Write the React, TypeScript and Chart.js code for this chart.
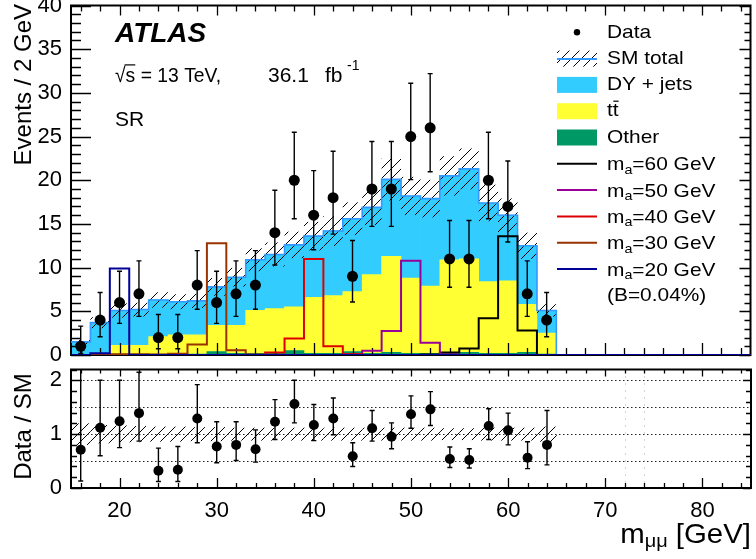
import React, { useEffect, useRef } from 'react';
import { Chart, registerables } from 'chart.js';

Chart.register(...registerables);

const FONT = "'Liberation Sans', Arial, Helvetica, sans-serif";

// ---------- data ----------
const binCenters = [16, 18, 20, 22, 24, 26, 28, 30, 32, 34, 36, 38, 40, 42, 44, 46, 48, 50, 52, 54, 56, 58, 60, 62, 64];
const binHalfWidth = 1;
const histUpperEdge = 65;
const xMin = 15;
const xMax = 85;

const dataCounts = [1, 4, 6, 7, 2, 2, 8, 6, 7, 8, 14, 20, 16, 18, 9, 19, 19, 25, 26, 11, 11, 20, 17, 7, 4];
const dataErrUp = [2.3, 3.16, 3.58, 3.77, 2.64, 2.64, 3.95, 3.58, 3.77, 3.95, 4.85, 5.5, 5.1, 5.32, 4.11, 5.43, 5.43, 6.1, 6.2, 4.4, 4.4, 5.5, 5.21, 3.77, 3.16];
const dataErrDown = [0.83, 1.91, 2.38, 2.58, 1.29, 1.29, 2.77, 2.38, 2.58, 2.77, 3.7, 4.4, 3.95, 4.17, 2.94, 4.28, 4.28, 4.93, 5.03, 3.25, 3.25, 4.4, 4.06, 2.58, 1.91];

const otherBkg = [0.05, 0.05, 0.1, 0.1, 0.1, 0.1, 0.1, 0.4, 0.2, 0.2, 0.2, 0.5, 0.2, 0.2, 0.4, 0.2, 0.3, 0.2, 0.2, 0.2, 0.3, 0.2, 0.2, 0.3, 0.1];
const ttbarBkg = [0, 0.05, 1.0, 1.0, 2.0, 2.2, 2.2, 3.0, 3.2, 4.9, 5.1, 5.0, 6.4, 6.6, 6.85, 9.0, 11.0, 8.6, 7.7, 10.7, 10.7, 8.2, 8.3, 5.5, 2.4];
const dyBkg = [1.45, 3.6, 4.0, 4.1, 4.2, 3.8, 3.9, 4.4, 5.5, 5.8, 6.2, 7.1, 7.0, 7.4, 8.35, 7.7, 8.8, 9.4, 10.0, 9.6, 10.3, 9.0, 7.5, 6.7, 2.6];
const smRelUnc = [0.2, 0.17, 0.16, 0.15, 0.14, 0.14, 0.13, 0.13, 0.12, 0.12, 0.12, 0.12, 0.12, 0.12, 0.12, 0.12, 0.12, 0.12, 0.12, 0.11, 0.11, 0.12, 0.12, 0.12, 0.14];

const sigMa20 = [0, 0.2, 9.9, 0, 0, 0, 0, 0, 0, 0, 0, 0, 0, 0, 0, 0, 0, 0, 0, 0, 0, 0, 0, 0, 0];
const sigMa30 = [0, 0.1, 0.1, 0.1, 0.05, 0.15, 1.2, 12.8, 0.55, 0.05, 0, 0, 0, 0, 0, 0, 0, 0, 0, 0, 0, 0, 0, 0, 0];
const sigMa40 = [0, 0, 0, 0, 0, 0, 0, 0, 0, 0, 0.3, 1.9, 11.0, 1.0, 0.1, 0, 0, 0, 0, 0, 0, 0, 0, 0, 0];
const sigMa50 = [0, 0, 0, 0, 0, 0, 0, 0, 0, 0, 0, 0, 0, 0, 0.1, 0.5, 2.75, 10.8, 1.4, 0.05, 0, 0, 0, 0, 0];
const sigMa60 = [0, 0, 0, 0, 0, 0, 0, 0, 0, 0, 0, 0, 0, 0, 0, 0, 0, 0, 0.05, 0.3, 0.75, 4.2, 13.6, 2.8, 0];

const ratioValues = [0.71, 1.12, 1.24, 1.39, 0.32, 0.34, 1.29, 0.77, 0.8, 0.72, 1.23, 1.56, 1.17, 1.29, 0.59, 1.11, 0.95, 1.37, 1.46, 0.54, 0.52, 1.15, 1.07, 0.56, 0.8];
const ratioLow = [0.13, 0.6, 0.75, 0.87, 0.12, 0.12, 0.84, 0.47, 0.51, 0.48, 0.9, 1.21, 0.88, 0.99, 0.4, 0.87, 0.73, 1.11, 1.16, 0.38, 0.37, 0.9, 0.8, 0.36, 0.43];
const ratioHigh = [2.4, 2.0, 2.0, 2.15, 0.74, 0.77, 1.92, 1.23, 1.23, 1.08, 1.64, 2.0, 1.55, 1.67, 0.84, 1.44, 1.21, 1.71, 1.79, 0.76, 0.73, 1.47, 1.39, 0.86, 1.44];

const xTickLabels = [20, 30, 40, 50, 60, 70, 80];
const upperYTickLabels = [0, 5, 10, 15, 20, 25, 30, 35, 40];
const lowerYTickLabels = [0, 1, 2];
const ratioRefLines = [0.5, 1, 1.5, 2];
const ratioFaintLines = [72, 74];

const signalDefs = [
  { label: 'm_a=60 GeV', mass: '60', values: sigMa60, color: '#000000' },
  { label: 'm_a=50 GeV', mass: '50', values: sigMa50, color: '#990099' },
  { label: 'm_a=40 GeV', mass: '40', values: sigMa40, color: '#dd0000' },
  { label: 'm_a=30 GeV', mass: '30', values: sigMa30, color: '#993300' },
  { label: 'm_a=20 GeV', mass: '20', values: sigMa20, color: '#000099' },
];

const COL_DY = '#33ccff';
const COL_TT = '#ffff33';
const COL_OTHER = '#009966';
const COL_SMLINE = '#3399ff';

// ---------- helpers ----------
const total = binCenters.map((_, i) => otherBkg[i] + ttbarBkg[i] + dyBkg[i]);

function stepPoints(values: number[], closeTo: number | null) {
  const pts = binCenters.map((c, i) => ({ x: c - binHalfWidth, y: values[i] }));
  pts.push({ x: histUpperEdge, y: values[values.length - 1] });
  if (closeTo !== null) pts.push({ x: closeTo, y: 0 });
  return pts;
}

function range(a: number, b: number, s: number) {
  const out: number[] = [];
  for (let v = a; v <= b + 1e-9; v += s) out.push(Math.round(v * 1000) / 1000);
  return out;
}

function makeHatch(ctx: CanvasRenderingContext2D) {
  const c = document.createElement('canvas');
  c.width = 10;
  c.height = 10;
  const g = c.getContext('2d')!;
  g.strokeStyle = '#000';
  g.lineWidth = 1;
  g.beginPath();
  g.moveTo(0, 10);
  g.lineTo(10, 0);
  g.moveTo(-5, 5);
  g.lineTo(5, -5);
  g.moveTo(5, 15);
  g.lineTo(15, 5);
  g.stroke();
  return ctx.createPattern(c, 'repeat')!;
}

function text(ctx: CanvasRenderingContext2D, s: string, x: number, y: number, size: number, o: any = {}) {
  ctx.save();
  ctx.font = `${o.style || 'normal'} ${o.weight || 'normal'} ${size}px ${FONT}`;
  ctx.fillStyle = '#000';
  ctx.textAlign = 'left';
  ctx.textBaseline = o.baseline || 'alphabetic';
  const sx = o.sx || 1;
  const w = ctx.measureText(s).width * sx;
  let x0 = x;
  if (o.align === 'right') x0 = x - w;
  if (o.align === 'center') x0 = x - w / 2;
  ctx.translate(x0, y);
  ctx.scale(sx, 1);
  ctx.fillText(s, 0, 0);
  ctx.restore();
  return w;
}

function measure(ctx: CanvasRenderingContext2D, s: string, size: number, sx = 1, weight = 'normal') {
  ctx.save();
  ctx.font = `normal ${weight} ${size}px ${FONT}`;
  const w = ctx.measureText(s).width * sx;
  ctx.restore();
  return w;
}

type TickCfg = {
  xMinor: number[]; xMajor: number[]; xBot: [number, number]; xTop: [number, number];
  yMinor: number[]; yMajor: number[]; yLeft: [number, number]; yRight: [number, number];
};

function drawFrame(chart: any, cfg: TickCfg) {
  const { ctx, chartArea: a } = chart;
  const xs = chart.scales.x;
  const ys = chart.scales.y;
  ctx.save();
  ctx.strokeStyle = '#000';
  ctx.lineWidth = 1.3;
  ctx.beginPath();
  for (const v of cfg.xMinor) {
    const px = Math.round(xs.getPixelForValue(v)) + 0.5;
    const maj = cfg.xMajor.includes(v);
    const lb = maj ? cfg.xBot[0] : cfg.xBot[1];
    const lt = maj ? cfg.xTop[0] : cfg.xTop[1];
    ctx.moveTo(px, a.bottom);
    ctx.lineTo(px, a.bottom - lb);
    ctx.moveTo(px, a.top);
    ctx.lineTo(px, a.top + lt);
  }
  for (const v of cfg.yMinor) {
    const py = Math.round(ys.getPixelForValue(v)) + 0.5;
    const maj = cfg.yMajor.some((m) => Math.abs(m - v) < 1e-6);
    const ll = maj ? cfg.yLeft[0] : cfg.yLeft[1];
    const lr = maj ? cfg.yRight[0] : cfg.yRight[1];
    ctx.moveTo(a.left, py);
    ctx.lineTo(a.left + ll, py);
    ctx.moveTo(a.right, py);
    ctx.lineTo(a.right - lr, py);
  }
  ctx.stroke();
  ctx.lineWidth = 2;
  ctx.strokeRect(a.left, a.top, a.right - a.left, a.bottom - a.top);
  ctx.restore();
}

function drawHatchBand(chart: any, lo: number[], hi: number[], pattern: CanvasPattern) {
  const { ctx, chartArea: a } = chart;
  const xs = chart.scales.x;
  const ys = chart.scales.y;
  ctx.save();
  ctx.beginPath();
  ctx.rect(a.left, a.top, a.right - a.left, a.bottom - a.top);
  ctx.clip();
  ctx.fillStyle = pattern;
  binCenters.forEach((c, i) => {
    const x1 = xs.getPixelForValue(c - binHalfWidth);
    const x2 = xs.getPixelForValue(c + binHalfWidth);
    const y1 = ys.getPixelForValue(hi[i]);
    const y2 = ys.getPixelForValue(lo[i]);
    ctx.fillRect(x1, y1, x2 - x1, y2 - y1);
  });
  ctx.restore();
}

const errorBarPlugin = {
  id: 'errbars',
  beforeDatasetDraw(chart: any, args: any) {
    const ds: any = chart.data.datasets[args.index];
    if (!ds.errLo) return;
    const { ctx, chartArea: a } = chart;
    const xs = chart.scales.x;
    const ys = chart.scales.y;
    ctx.save();
    ctx.beginPath();
    ctx.rect(a.left, a.top, a.right - a.left, a.bottom - a.top);
    ctx.clip();
    ctx.strokeStyle = '#000';
    ctx.lineWidth = 1.4;
    ctx.beginPath();
    ds.data.forEach((p: any, i: number) => {
      const x = xs.getPixelForValue(p.x);
      const y1 = ys.getPixelForValue(ds.errLo[i]);
      const y2 = ys.getPixelForValue(ds.errHi[i]);
      ctx.moveTo(x, y1);
      ctx.lineTo(x, y2);
      ctx.moveTo(x - 2.5, y1);
      ctx.lineTo(x + 2.5, y1);
      ctx.moveTo(x - 2.5, y2);
      ctx.lineTo(x + 2.5, y2);
    });
    ctx.stroke();
    ctx.restore();
  },
};

const xMinorTicks = range(16, 84, 2);
const xMajorTicks = xTickLabels;

const noPad = (s: any) => {
  s.paddingTop = 0;
  s.paddingBottom = 0;
  s.paddingLeft = 0;
  s.paddingRight = 0;
};

// ---------- component ----------
export default function App() {
  const topRef = useRef<HTMLCanvasElement>(null);
  const botRef = useRef<HTMLCanvasElement>(null);

  useEffect(() => {
    Chart.defaults.color = '#000';
    Chart.defaults.font.family = FONT;

    const topCtx = topRef.current!.getContext('2d')!;
    const hatchTop = makeHatch(topCtx);
    const smIndex = 3;

    const upperPlugin = {
      id: 'upperDeco',
      beforeDatasetDraw(chart: any, args: any) {
        if (args.index !== smIndex) return;
        drawHatchBand(
          chart,
          total.map((t, i) => t * (1 - smRelUnc[i])),
          total.map((t, i) => t * (1 + smRelUnc[i])),
          hatchTop
        );
        drawFrame(chart, {
          xMinor: xMinorTicks, xMajor: xMajorTicks, xBot: [12, 7], xTop: [10, 6],
          yMinor: range(0, 40, 1), yMajor: upperYTickLabels, yLeft: [20, 10], yRight: [11, 6],
        });
      },
      afterDraw(chart: any) {
        const ctx: CanvasRenderingContext2D = chart.ctx;
        // ATLAS label
        text(ctx, 'ATLAS', 115, 41.7, 28, { weight: 'bold', style: 'italic' });
        // sqrt(s) line
        const fs = 21;
        const rsx = 0.92;
        const wRoot = measure(ctx, '\u221A', fs, rsx);
        const wS = measure(ctx, 's', fs, rsx);
        text(ctx, '\u221As = 13 TeV,', 115, 81.7, fs, { sx: rsx });
        ctx.save();
        ctx.strokeStyle = '#000';
        ctx.lineWidth = 1.2;
        ctx.beginPath();
        ctx.moveTo(115 + wRoot - 1, 81.7 - fs * 0.8);
        ctx.lineTo(115 + wRoot + wS, 81.7 - fs * 0.8);
        ctx.stroke();
        ctx.restore();
        text(ctx, '36.1', 268, 81.7, fs);
        text(ctx, 'fb', 325, 81.7, fs);
        text(ctx, '-1', 347, 70, 14);
        text(ctx, 'SR', 115, 126, fs);

        // axis title
        ctx.save();
        ctx.translate(31, 4);
        ctx.rotate(-Math.PI / 2);
        text(ctx, 'Events / 2 GeV', 0, 0, 24, { align: 'right' });
        ctx.restore();

        // legend
        const lx0 = 557;
        const lx1 = 597;
        const tx = 607;
        const rowY = (i: number) => 32.3 + 26.3 * i;
        const lf = 19;
        const lsx = 1.1;
        // Data
        ctx.save();
        ctx.fillStyle = '#000';
        ctx.beginPath();
        ctx.arc((lx0 + lx1) / 2, rowY(0), 3.2, 0, Math.PI * 2);
        ctx.fill();
        ctx.restore();
        text(ctx, 'Data', tx, rowY(0), lf, { baseline: 'middle', sx: lsx });
        // SM total
        ctx.save();
        ctx.fillStyle = hatchTop;
        ctx.fillRect(lx0, rowY(1) - 8, lx1 - lx0, 16);
        ctx.strokeStyle = COL_SMLINE;
        ctx.lineWidth = 2;
        ctx.beginPath();
        ctx.moveTo(lx0, rowY(1) + 0.5);
        ctx.lineTo(lx1, rowY(1) + 0.5);
        ctx.stroke();
        ctx.restore();
        text(ctx, 'SM total', tx, rowY(1), lf, { baseline: 'middle', sx: lsx });
        // fills
        const boxes: [string, string][] = [[COL_DY, 'DY + jets'], [COL_TT, 'tt'], [COL_OTHER, 'Other']];
        boxes.forEach(([col, lab], k) => {
          const y = rowY(2 + k);
          ctx.save();
          ctx.fillStyle = col;
          ctx.fillRect(lx0, y - 8, lx1 - lx0, 16);
          ctx.restore();
          text(ctx, lab, tx, y, lf, { baseline: 'middle', sx: lsx });
          if (lab === 'tt') {
            const wt = measure(ctx, 't', lf, lsx);
            ctx.save();
            ctx.strokeStyle = '#000';
            ctx.lineWidth = 1.2;
            ctx.beginPath();
            ctx.moveTo(tx + wt + 0.5, y - 10);
            ctx.lineTo(tx + 2 * wt, y - 10);
            ctx.stroke();
            ctx.restore();
          }
        });
        // signals
        signalDefs.forEach((s, k) => {
          const y = rowY(5 + k);
          ctx.save();
          ctx.strokeStyle = s.color;
          ctx.lineWidth = 2;
          ctx.beginPath();
          ctx.moveTo(lx0, y);
          ctx.lineTo(lx1, y);
          ctx.stroke();
          ctx.restore();
          let x = tx;
          x += text(ctx, 'm', x, y + 6.5, lf, { sx: lsx });
          x += text(ctx, 'a', x, y + 10, 13, { sx: lsx });
          text(ctx, '=' + s.mass + ' GeV', x, y + 6.5, lf, { sx: lsx });
        });
        text(ctx, '(B=0.04%)', tx, rowY(10), lf, { baseline: 'middle', sx: lsx });
      },
    };

    const barCommon = {
      type: 'bar' as const,
      grouped: false,
      barPercentage: 1,
      categoryPercentage: 1,
      borderWidth: 0,
      order: 10,
    };

    const upper = new Chart(topRef.current!, {
      type: 'bar',
      data: {
        datasets: [
          { ...barCommon, label: 'Other', backgroundColor: COL_OTHER, data: binCenters.map((x, i) => ({ x, y: [0, otherBkg[i]] })) } as any,
          { ...barCommon, label: 'ttbar', backgroundColor: COL_TT, data: binCenters.map((x, i) => ({ x, y: [otherBkg[i], otherBkg[i] + ttbarBkg[i]] })) } as any,
          { ...barCommon, label: 'DY + jets', backgroundColor: COL_DY, data: binCenters.map((x, i) => ({ x, y: [otherBkg[i] + ttbarBkg[i], total[i]] })) } as any,
          {
            type: 'line', label: 'SM total', data: stepPoints(total, histUpperEdge), borderColor: COL_SMLINE,
            borderWidth: 1.6, stepped: 'before', pointRadius: 0, fill: false, order: 6,
          } as any,
          ...signalDefs.map((s, k) => ({
            type: 'line', label: s.label, data: stepPoints(s.values, xMax), borderColor: s.color,
            borderWidth: 2, stepped: 'before', pointRadius: 0, fill: false, order: 5 - k,
          } as any)),
          {
            type: 'line', label: 'Data', data: binCenters.map((x, i) => ({ x, y: dataCounts[i] })), showLine: false,
            pointRadius: 5.5, pointHoverRadius: 5.5, pointBackgroundColor: '#000', pointBorderColor: '#000', pointBorderWidth: 0, order: 0,
            errLo: dataCounts.map((v, i) => v - dataErrDown[i]), errHi: dataCounts.map((v, i) => v + dataErrUp[i]),
          } as any,
        ],
      },
      options: {
        animation: false,
        responsive: true,
        maintainAspectRatio: false,
        events: [],
        layout: { padding: { top: 3, right: 3.5, bottom: 15, left: 0 } },
        plugins: { legend: { display: false }, tooltip: { enabled: false } },
        scales: {
          x: { type: 'linear', min: xMin, max: xMax, offset: false, display: false, grid: { offset: false }, afterFit: noPad },
          y: {
            type: 'linear', min: 0, max: 40,
            grid: { display: false, drawTicks: false }, border: { display: false },
            ticks: { stepSize: 5, padding: 9, font: { size: 22, family: FONT }, color: '#000' },
            afterBuildTicks: (s: any) => { s.ticks = upperYTickLabels.map((v) => ({ value: v })); },
            afterFit: (s: any) => { s.width = 71; noPad(s); },
          },
        },
      } as any,
      plugins: [errorBarPlugin, upperPlugin],
    });

    const botCtx = botRef.current!.getContext('2d')!;
    const hatchBot = makeHatch(botCtx);
    const lowerPlugin = {
      id: 'lowerDeco',
      beforeDatasetsDraw(chart: any) {
        const { ctx, chartArea: a } = chart;
        const xs = chart.scales.x;
        const ys = chart.scales.y;
        ctx.save();
        ctx.strokeStyle = '#222';
        ctx.lineWidth = 1;
        ctx.setLineDash([1.5, 2.5]);
        ctx.beginPath();
        for (const v of ratioRefLines) {
          const py = Math.round(ys.getPixelForValue(v)) + 0.5;
          ctx.moveTo(a.left, py);
          ctx.lineTo(a.right, py);
        }
        ctx.stroke();
        ctx.strokeStyle = '#aaa';
        ctx.setLineDash([1, 6]);
        ctx.beginPath();
        for (const v of ratioFaintLines) {
          const px = Math.round(xs.getPixelForValue(v)) + 0.5;
          ctx.moveTo(px, a.top);
          ctx.lineTo(px, a.bottom);
        }
        ctx.stroke();
        ctx.restore();
        drawHatchBand(chart, smRelUnc.map((r) => 1 - r), smRelUnc.map((r) => 1 + r), hatchBot);
        drawFrame(chart, {
          xMinor: xMinorTicks, xMajor: xMajorTicks, xBot: [10, 5], xTop: [7, 4],
          yMinor: range(0, 2.2, 0.2), yMajor: lowerYTickLabels, yLeft: [11, 6], yRight: [8, 5],
        });
      },
      afterDraw(chart: any) {
        const ctx: CanvasRenderingContext2D = chart.ctx;
        ctx.save();
        ctx.translate(31, 64.5);
        ctx.rotate(-Math.PI / 2);
        text(ctx, 'Data / SM', 0, 0, 24, { align: 'center' });
        ctx.restore();
        // x axis title m_mumu [GeV]
        const fs = 28;
        const sx = 1.05;
        const w1 = measure(ctx, 'm', fs, sx);
        const w2 = measure(ctx, '\u03BC\u03BC', 19, sx);
        const w3 = measure(ctx, ' [GeV]', fs, sx);
        let x = chart.chartArea.right - (w1 + w2 + w3);
        const base = 181;
        x += text(ctx, 'm', x, base, fs, { sx });
        x += text(ctx, '\u03BC\u03BC', x, base + 4, 19, { sx });
        text(ctx, ' [GeV]', x, base, fs, { sx });
      },
    };

    const lower = new Chart(botRef.current!, {
      type: 'line',
      data: {
        datasets: [
          {
            type: 'line', label: 'Data / SM', data: binCenters.map((x, i) => ({ x, y: ratioValues[i] })), showLine: false,
            pointRadius: 5, pointHoverRadius: 5, pointBackgroundColor: '#000', pointBorderColor: '#000', pointBorderWidth: 0,
            errLo: ratioLow, errHi: ratioHigh,
          } as any,
        ],
      },
      options: {
        animation: false,
        responsive: true,
        maintainAspectRatio: false,
        events: [],
        layout: { padding: { top: 7.5, right: 3.5, bottom: 0, left: 0 } },
        plugins: { legend: { display: false }, tooltip: { enabled: false } },
        scales: {
          x: {
            type: 'linear', min: xMin, max: xMax, offset: false,
            grid: { display: false, drawTicks: false }, border: { display: false },
            ticks: { padding: 10, font: { size: 22, family: FONT }, color: '#000', maxRotation: 0 },
            afterBuildTicks: (s: any) => { s.ticks = xTickLabels.map((v) => ({ value: v })); },
            afterFit: (s: any) => { s.height = 71; noPad(s); },
          },
          y: {
            type: 'linear', min: 0, max: 2.2,
            grid: { display: false, drawTicks: false }, border: { display: false },
            ticks: { padding: 9, font: { size: 22, family: FONT }, color: '#000' },
            afterBuildTicks: (s: any) => { s.ticks = lowerYTickLabels.map((v) => ({ value: v })); },
            afterFit: (s: any) => { s.width = 71; noPad(s); },
          },
        },
      } as any,
      plugins: [errorBarPlugin, lowerPlugin],
    });

    return () => {
      upper.destroy();
      lower.destroy();
    };
  }, []);

  return (
    <div style={{ position: 'fixed', left: 0, top: 0, width: 756, height: 559, background: '#fff', overflow: 'hidden' }}>
      <div style={{ position: 'absolute', left: 0, top: 0, width: 756, height: 370 }}>
        <canvas ref={topRef} />
      </div>
      <div style={{ position: 'absolute', left: 0, top: 362, width: 756, height: 197 }}>
        <canvas ref={botRef} />
      </div>
    </div>
  );
}
